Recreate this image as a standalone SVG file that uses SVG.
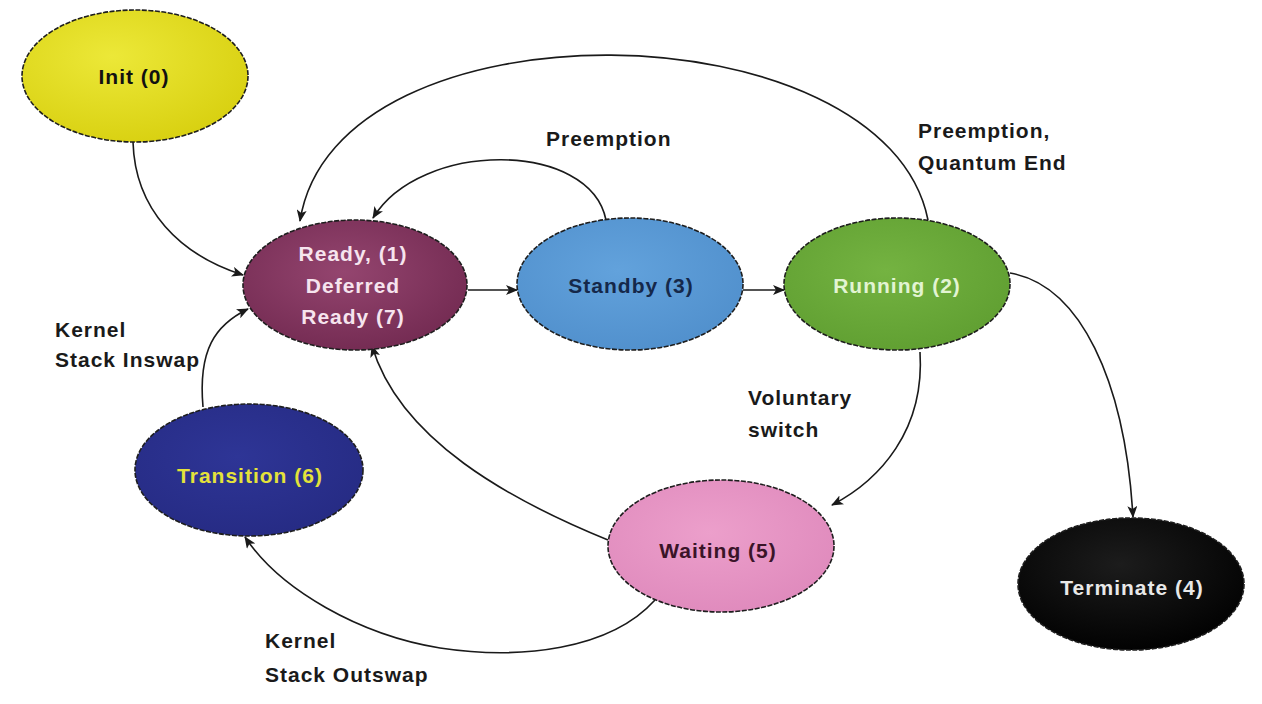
<svg xmlns="http://www.w3.org/2000/svg" width="1262" height="704" viewBox="0 0 1262 704">
<style>
.node{stroke:#1e1e1e;stroke-width:1.6;stroke-dasharray:5 1.5}
.nt{font-family:"Liberation Sans",Arial,sans-serif;font-weight:bold;font-size:21px;letter-spacing:1px;text-anchor:middle}
.lb{font-family:"Liberation Sans",Arial,sans-serif;font-weight:bold;font-size:21px;letter-spacing:1px;fill:#1a1a1a}
.edge{fill:none;stroke:#1a1a1a;stroke-width:1.6;marker-end:url(#arr)}
</style>
<defs>
<marker id="arr" viewBox="0 0 12 10" refX="11" refY="5" markerWidth="12" markerHeight="10" markerUnits="userSpaceOnUse" orient="auto">
<path d="M0,0 L12,5 L0,10 L3,5 Z" fill="#1a1a1a"/>
</marker>
<radialGradient id="gInit" cx="0.4" cy="0.35" r="0.7"><stop offset="0" stop-color="#ece838"/><stop offset="1" stop-color="#d8d010"/></radialGradient>
<radialGradient id="gReady" cx="0.45" cy="0.4" r="0.7"><stop offset="0" stop-color="#94456f"/><stop offset="1" stop-color="#70284f"/></radialGradient>
<radialGradient id="gStandby" cx="0.45" cy="0.4" r="0.7"><stop offset="0" stop-color="#62a2dc"/><stop offset="1" stop-color="#4f8ecb"/></radialGradient>
<radialGradient id="gRun" cx="0.45" cy="0.4" r="0.7"><stop offset="0" stop-color="#74b341"/><stop offset="1" stop-color="#5e9d30"/></radialGradient>
<radialGradient id="gTrans" cx="0.45" cy="0.4" r="0.7"><stop offset="0" stop-color="#2e3596"/><stop offset="1" stop-color="#252a82"/></radialGradient>
<radialGradient id="gWait" cx="0.45" cy="0.4" r="0.7"><stop offset="0" stop-color="#ec9fcb"/><stop offset="1" stop-color="#de88bb"/></radialGradient>
<radialGradient id="gTerm" cx="0.45" cy="0.35" r="0.7"><stop offset="0" stop-color="#1c1c1c"/><stop offset="1" stop-color="#000"/></radialGradient>
</defs>
<rect width="1262" height="704" fill="#fff"/>
<g id="connectors">
<path class="edge" d="M133,142 C135,210 180,255 243,275"/>
<path class="edge" d="M468,290 L517,290"/>
<path class="edge" d="M743,290 L784,290"/>
<path class="edge" d="M606,220 C590,140 420,140 373,218"/>
<path class="edge" d="M928,220 C885,5 335,-5 300,221"/>
<path class="edge" d="M1010,273 C1080,285 1125,380 1133,517"/>
<path class="edge" d="M920,352 C925,430 880,480 832,505"/>
<path class="edge" d="M608,540 C510,500 400,440 372,346"/>
<path class="edge" d="M655,600 C610,650 520,660 440,648 C360,635 280,590 245,537"/>
<path class="edge" d="M203,407 C198,350 215,325 248,309"/>
</g>
<g id="init"><ellipse class="node" cx="135" cy="76" rx="113" ry="66" fill="url(#gInit)"/><text class="nt" x="134" y="84" fill="#111">Init (0)</text></g>
<g id="ready"><ellipse class="node" cx="355" cy="285" rx="112" ry="65" fill="url(#gReady)"/>
<text class="nt" x="353" y="261" fill="#f6e4ee">Ready, (1)</text><text class="nt" x="353" y="293" fill="#f6e4ee">Deferred</text><text class="nt" x="353" y="324" fill="#f6e4ee">Ready (7)</text></g>
<g id="standby"><ellipse class="node" cx="630" cy="284" rx="113" ry="66" fill="url(#gStandby)"/><text class="nt" x="631" y="293" fill="#15284a">Standby (3)</text></g>
<g id="running"><ellipse class="node" cx="897" cy="284" rx="113" ry="66" fill="url(#gRun)"/><text class="nt" x="897" y="293" fill="#e2f4d2">Running (2)</text></g>
<g id="transition"><ellipse class="node" cx="249" cy="470" rx="114" ry="66" fill="url(#gTrans)"/><text class="nt" x="250" y="483" fill="#e4e23a">Transition (6)</text></g>
<g id="waiting"><ellipse class="node" cx="721" cy="546" rx="113" ry="66" fill="url(#gWait)"/><text class="nt" x="718" y="558" fill="#3a1428">Waiting (5)</text></g>
<g id="terminate"><ellipse class="node" cx="1131" cy="584" rx="113" ry="66" fill="url(#gTerm)"/><text class="nt" x="1132" y="595" fill="#e8e8e8">Terminate (4)</text></g>
<g id="labels">
<text class="lb" x="546" y="146">Preemption</text>
<text class="lb" x="918" y="138">Preemption,</text>
<text class="lb" x="918" y="170">Quantum End</text>
<text class="lb" x="55" y="337">Kernel</text>
<text class="lb" x="55" y="367">Stack Inswap</text>
<text class="lb" x="748" y="405">Voluntary</text>
<text class="lb" x="748" y="437">switch</text>
<text class="lb" x="265" y="648">Kernel</text>
<text class="lb" x="265" y="682">Stack Outswap</text>
</g>
</svg>
